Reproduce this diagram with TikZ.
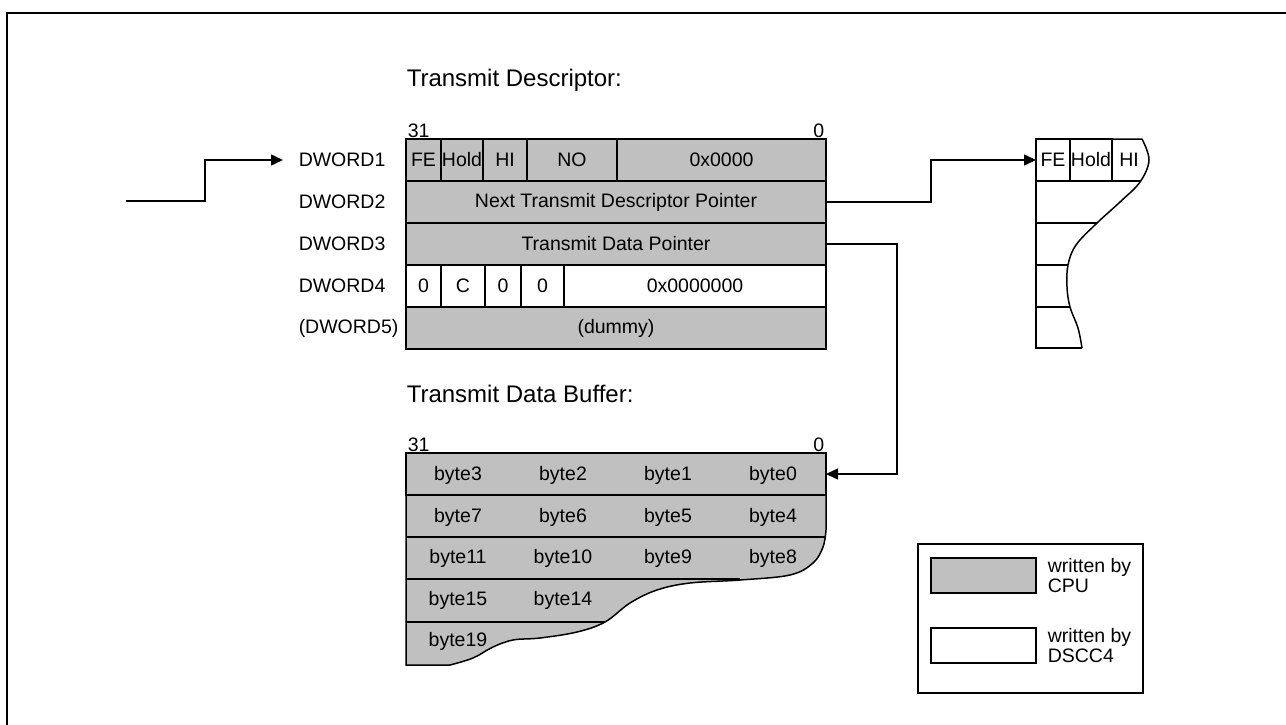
\documentclass[tikz,border=0pt]{standalone}
\usepackage{fontspec}
\setmainfont{Liberation Sans}
\usetikzlibrary{positioning, arrows.meta}
\definecolor{cpugray}{RGB}{192,192,192}

\begin{document}
\begin{tikzpicture}[
    x=1pt, y=-1pt, >={Triangle[length=12pt,width=11pt]},
    line width=1.5pt, font=\fontsize{19.5}{20}\selectfont,
    cell/.style={draw, fill=cpugray, inner sep=0pt, outer sep=0pt, minimum height=42pt},
    free/.style={cell, fill=white},
    dlabel/.style={inner sep=0pt, anchor=west},
    bitno/.style={inner sep=1pt},
    head/.style={font=\fontsize{24}{28}\selectfont, anchor=west, inner sep=0pt}
]
\useasboundingbox (0,0) rectangle (1286,725);
\draw[line width=2.7pt] (1290,13) -- (7,13) -- (7,730);

% Transmit descriptor
\node[head] (deschead) at (406,80) {Transmit Descriptor:};
\node[cell, minimum width=35pt, anchor=north west] (fe) at (406,139) {FE};
\node[cell, minimum width=42pt, right=0pt of fe] (hold) {Hold};
\node[cell, minimum width=44pt, right=0pt of hold] (hi) {HI};
\node[cell, minimum width=90pt, right=0pt of hi] (no) {NO};
\node[cell, minimum width=209pt, right=0pt of no] (zero16) {0x0000};
\node[cell, minimum width=420pt, below=0pt of fe.south west, anchor=north west] (nextptr) {Next Transmit Descriptor Pointer};
\node[cell, minimum width=420pt, below=0pt of nextptr] (dataptr) {Transmit Data Pointer};
\node[free, minimum width=35pt, below=0pt of dataptr.south west, anchor=north west] (fa) {0};
\node[free, minimum width=44pt, right=0pt of fa] (fc) {C};
\node[free, minimum width=36pt, right=0pt of fc] (fb) {0};
\node[free, minimum width=43pt, right=0pt of fb] (fd) {0};
\node[free, minimum width=262pt, right=0pt of fd] (zero28) {0x0000000};
\node[cell, minimum width=420pt, below=0pt of fa.south west, anchor=north west] (dummy) {(dummy)};
\node[bitno, anchor=south west] (dmsb) at (fe.north west) {31};
\node[bitno, anchor=south east] (dlsb) at (zero16.north east) {0};

% DWORD-Beschriftung
\coordinate (labx) at (298,0);
\node[dlabel] (w1) at (labx |- fe) {DWORD1};
\node[dlabel] (w2) at (labx |- nextptr) {DWORD2};
\node[dlabel] (w3) at (labx |- dataptr) {DWORD3};
\node[dlabel] (w4) at (labx |- fa) {DWORD4};
\node[dlabel] (w5) at (labx |- dummy) {(DWORD5)};

% naechster Deskriptor
\node[free, minimum width=34pt, anchor=north west] (rfe) at (1036,139) {FE};
\node[free, minimum width=42pt, right=0pt of rfe] (rhold) {Hold};
\node[inner sep=0pt] (rhi) at (1129,160) {HI};
\draw (rhold.north east) -- plot[smooth, tension=0.6] coordinates {(1142,139) (1149,160) (1140,182) (1120,202) (1097,223) (1076,245) (1068,265) (1067,287) (1070,307) (1078,328) (1082,348)};
\draw (rfe.south west) -- (1036,348) -- (1082,348);
\draw (rhold.south east) -- (1140,181);
\foreach \y/\xe in {223/1097, 265/1068, 307/1070}
    \draw (1036,\y) -- (\xe,\y);

% Transmit data buffer
\node[head] (bufhead) at (406,394) {Transmit Data Buffer:};
\draw[fill=cpugray] (406,453) -- (826,453) -- (826,530) -- plot[smooth, tension=0.6] coordinates {(826,530) (823,547) (813,563) (790,575) (740,580) (690,583) (657,590) (630,603) (605,622) (577,632) (540,638) (513,640) (493,647) (473,658) (450,665)} -- (406,665) -- cycle;
\node[cell, minimum width=420pt, anchor=north west] (brow0) at (406,453) {};
\foreach \y/\xe in {537/825, 579/740, 622/605}
    \draw (406,\y) -- (\xe,\y);
\node[bitno, anchor=south west] (bmsb) at (brow0.north west) {31};
\node[bitno, anchor=south east] (blsb) at (brow0.north east) {0};
\foreach \n/\x/\y in {3/458/475, 2/563/475, 1/668/475, 0/773/475,
                      7/458/517, 6/563/517, 5/668/517, 4/773/517,
                      11/458/558, 10/563/558, 9/668/558, 8/773/558,
                      15/458/600, 14/563/600, 19/458/641}
    \node[inner sep=0pt] (byte\n) at (\x,\y) {byte\n};

% Legende
\node[draw, minimum width=225pt, minimum height=149pt, anchor=north west] (legend) at (917,543) {};
\node[cell, minimum width=105pt, minimum height=35pt, anchor=north west] (keycpu) at (931,558) {};
\node[free, minimum width=105pt, minimum height=35pt, anchor=north west] (keydscc) at (931,628) {};
\node[right=11pt of keycpu.east, anchor=west, align=left, inner sep=0pt] (txtcpu) {written by\\CPU};
\node[right=11pt of keydscc.east, anchor=west, align=left, inner sep=0pt] (txtdscc) {written by\\DSCC4};

% Pfeile
\coordinate (src) at (126,201);
\draw[->] (src) -- ++(79,0) |- ([xshift=-15pt]w1.west);
\draw[->] (nextptr.east) -- ++(105,0) |- (rfe.west);
\draw[->] (dataptr.east) -- ++(71,0) |- (brow0.east);
\end{tikzpicture}
\end{document}
